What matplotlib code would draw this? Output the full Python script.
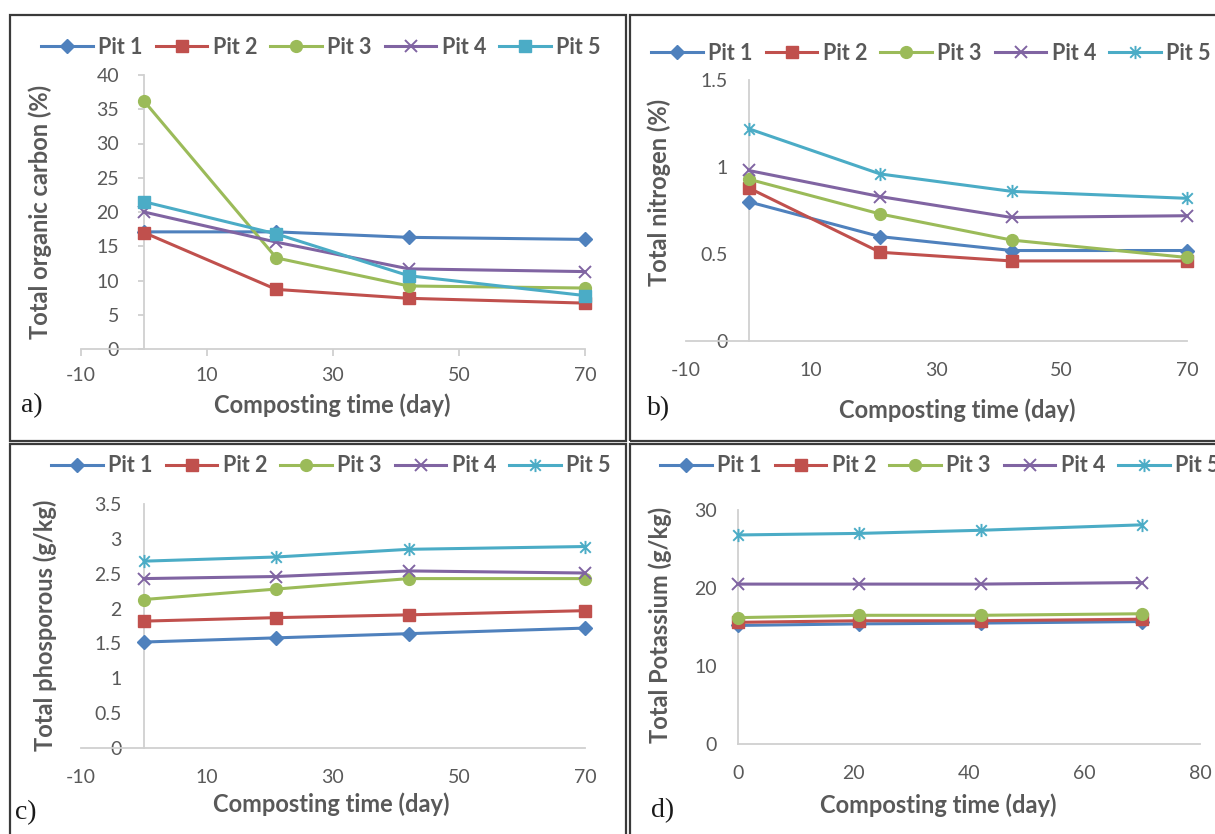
import matplotlib
matplotlib.use("Agg")
import matplotlib.pyplot as plt
from matplotlib.path import Path
from matplotlib.patches import Rectangle

# ---------------- data ----------------
days = [0, 21, 42, 70]
series_names = ["Pit 1", "Pit 2", "Pit 3", "Pit 4", "Pit 5"]

carbon_pit1 = [17.1, 17.1, 16.3, 16.0]
carbon_pit2 = [17.0, 8.7, 7.4, 6.7]
carbon_pit3 = [36.2, 13.3, 9.2, 8.9]
carbon_pit4 = [20.0, 15.6, 11.7, 11.3]
carbon_pit5 = [21.5, 16.8, 10.7, 7.8]

nitrogen_pit1 = [0.80, 0.60, 0.52, 0.52]
nitrogen_pit2 = [0.88, 0.51, 0.46, 0.46]
nitrogen_pit3 = [0.93, 0.73, 0.58, 0.48]
nitrogen_pit4 = [0.98, 0.83, 0.71, 0.72]
nitrogen_pit5 = [1.22, 0.96, 0.86, 0.82]

phos_pit1 = [1.52, 1.58, 1.64, 1.72]
phos_pit2 = [1.82, 1.87, 1.91, 1.97]
phos_pit3 = [2.13, 2.28, 2.43, 2.43]
phos_pit4 = [2.43, 2.46, 2.54, 2.51]
phos_pit5 = [2.68, 2.74, 2.85, 2.89]

potas_pit1 = [15.2, 15.4, 15.5, 15.7]
potas_pit2 = [15.6, 15.8, 15.8, 16.0]
potas_pit3 = [16.2, 16.5, 16.5, 16.7]
potas_pit4 = [20.5, 20.5, 20.5, 20.7]
potas_pit5 = [26.8, 27.0, 27.4, 28.1]

xlabel = "Composting time (day)"
ylabels = ["Total organic carbon (%)", "Total nitrogen (%)",
           "Total phosporous (g/kg)", "Total Potassium (g/kg)"]
panel_letters = ["a)", "b)", "c)", "d)"]

xticks_ac = [-10, 10, 30, 50, 70]
xticks_d = [0, 20, 40, 60, 80]
yticks_a = [0, 5, 10, 15, 20, 25, 30, 35, 40]
yticks_b = [0, 0.5, 1, 1.5]
yticks_c = [0, 0.5, 1, 1.5, 2, 2.5, 3, 3.5]
yticks_d = [0, 10, 20, 30]
ytick_labels_b = ["0", "0.5", "1", "1.5"]
ytick_labels_c = ["0", "0.5", "1", "1.5", "2", "2.5", "3", "3.5"]

# ---------------- styles ----------------
colors = ["#4F81BD", "#C0504D", "#9BBB59", "#8064A2", "#4BACC6"]
star = Path([(-1, -1), (1, 1), (-1, 1), (1, -1), (0, -1.25), (0, 1.25)],
            [Path.MOVETO, Path.LINETO, Path.MOVETO, Path.LINETO, Path.MOVETO, Path.LINETO])
FONT = "Lato"
GRAY = "#595959"
AXC = "#D0D0D0"

W, H = 1215, 834
fig = plt.figure(figsize=(W / 100, H / 100), dpi=100)
fig.patch.set_facecolor("white")


def fx(px):
    return px / W


def fy(py):
    return 1 - py / H


def rect_px(l, t, r, b):
    return [fx(l), fy(b), fx(r) - fx(l), fy(t) - fy(b)]


def draw(ax_rect, datasets, markers, xlim, xticks, ylim, yticks, ytl,
         show_ticks, ypad, xpad):
    ax = fig.add_axes(ax_rect)
    handles = []
    for i, (vals, m) in enumerate(zip(datasets, markers)):
        kw = dict(color=colors[i], lw=2.2, clip_on=False, zorder=3 + i)
        if m == "D":
            kw.update(marker="D", ms=7)
        elif m == "s":
            kw.update(marker="s", ms=8)
        elif m == "o":
            kw.update(marker="o", ms=8.5)
        elif m == "x":
            kw.update(marker="x", ms=8.5, mew=1.4)
        elif m == "star":
            kw.update(marker=star, ms=9.5, mew=1.4)
        h, = ax.plot(days, vals, label=series_names[i], **kw)
        handles.append(h)
    ax.set_xlim(*xlim)
    ax.set_ylim(*ylim)
    ax.set_xticks(xticks)
    ax.set_xticklabels([str(t) for t in xticks])
    ax.set_yticks(yticks)
    ax.set_yticklabels(ytl)
    for s in ["top", "right"]:
        ax.spines[s].set_visible(False)
    ax.spines["left"].set_position(("data", 0))
    for s in ["left", "bottom"]:
        ax.spines[s].set_color(AXC)
        ax.spines[s].set_linewidth(1.3)
    ax.set_facecolor("none")
    tl = 4 if show_ticks else 0
    ax.tick_params(axis="y", length=tl, color=AXC, width=1.3, pad=ypad,
                   labelsize=14, labelcolor=GRAY)
    ax.tick_params(axis="x", length=(5 if show_ticks else 0), color=AXC, width=1.3,
                   pad=xpad, labelsize=14, labelcolor=GRAY)
    for lab in ax.get_xticklabels() + ax.get_yticklabels():
        lab.set_fontfamily(FONT)
    return ax, handles


def legend(handles, cx, cy):
    fig.legend(handles=handles, loc="center", bbox_to_anchor=(fx(cx), fy(cy)),
               ncol=5, frameon=False, handlelength=2.4, columnspacing=0.6,
               handletextpad=0.25, borderaxespad=0,
               prop=dict(family=FONT, weight="bold", size=15.5), labelcolor=GRAY)


def labels(xl_x, xl_y, yl_x, yl_y, ylab, let, let_x, let_y):
    fig.text(fx(xl_x), fy(xl_y), xlabel, ha="center", va="center", family=FONT,
             weight="bold", size=17, color=GRAY)
    fig.text(fx(yl_x), fy(yl_y), ylab, ha="center", va="center", rotation=90,
             family=FONT, weight="bold", size=17, color=GRAY)
    fig.text(fx(let_x), fy(let_y), let, ha="center", va="center",
             family="Liberation Serif", size=20, color="#1a1a1a")


# panel a
ax_a, h_a = draw(rect_px(81, 75, 585, 349),
                 [carbon_pit1, carbon_pit2, carbon_pit3, carbon_pit4, carbon_pit5],
                 ["D", "s", "o", "x", "s"], (-10, 70), xticks_ac, (0, 40), yticks_a,
                 [str(t) for t in yticks_a], True, 14, 8)
legend(h_a, 321, 47)
labels(332, 405, 40, 212, ylabels[0], panel_letters[0], 32, 406)

# panel b
ax_b, h_b = draw(rect_px(686, 80, 1187, 341),
                 [nitrogen_pit1, nitrogen_pit2, nitrogen_pit3, nitrogen_pit4, nitrogen_pit5],
                 ["D", "s", "o", "x", "star"], (-10, 70), xticks_ac, (0, 1.5), yticks_b,
                 ytick_labels_b, False, 15, 15)
legend(h_b, 931, 53)
labels(957, 410, 659, 192, ylabels[1], panel_letters[1], 659, 409)

# panel c
ax_c, h_c = draw(rect_px(81, 504, 585, 748),
                 [phos_pit1, phos_pit2, phos_pit3, phos_pit4, phos_pit5],
                 ["D", "s", "o", "x", "star"], (-10, 70), xticks_ac, (0, 3.5), yticks_c,
                 ytick_labels_c, False, 16, 15)
legend(h_c, 331, 466)
labels(331, 804, 45, 625, ylabels[2], panel_letters[2], 26, 813)

# panel d
ax_d, h_d = draw(rect_px(738, 510, 1200, 744),
                 [potas_pit1, potas_pit2, potas_pit3, potas_pit4, potas_pit5],
                 ["D", "s", "o", "x", "star"], (0, 80), xticks_d, (0, 30), yticks_d,
                 [str(t) for t in yticks_d], False, 15, 15)
legend(h_d, 940, 466)
labels(938, 805, 660, 625, ylabels[3], panel_letters[3], 663, 811)

# panel borders
BC = "#3a3a3a"
for (l, t, r, b) in [(10, 15, 626, 441), (630, 15, 1230, 441),
                     (10, 444, 626, 850), (630, 444, 1230, 850)]:
    fig.patches.append(Rectangle((fx(l), fy(b)), fx(r) - fx(l), fy(t) - fy(b),
                                 transform=fig.transFigure, fill=False,
                                 edgecolor=BC, lw=1.6, zorder=0))

fig.savefig("out.png", dpi=100, facecolor="white")
